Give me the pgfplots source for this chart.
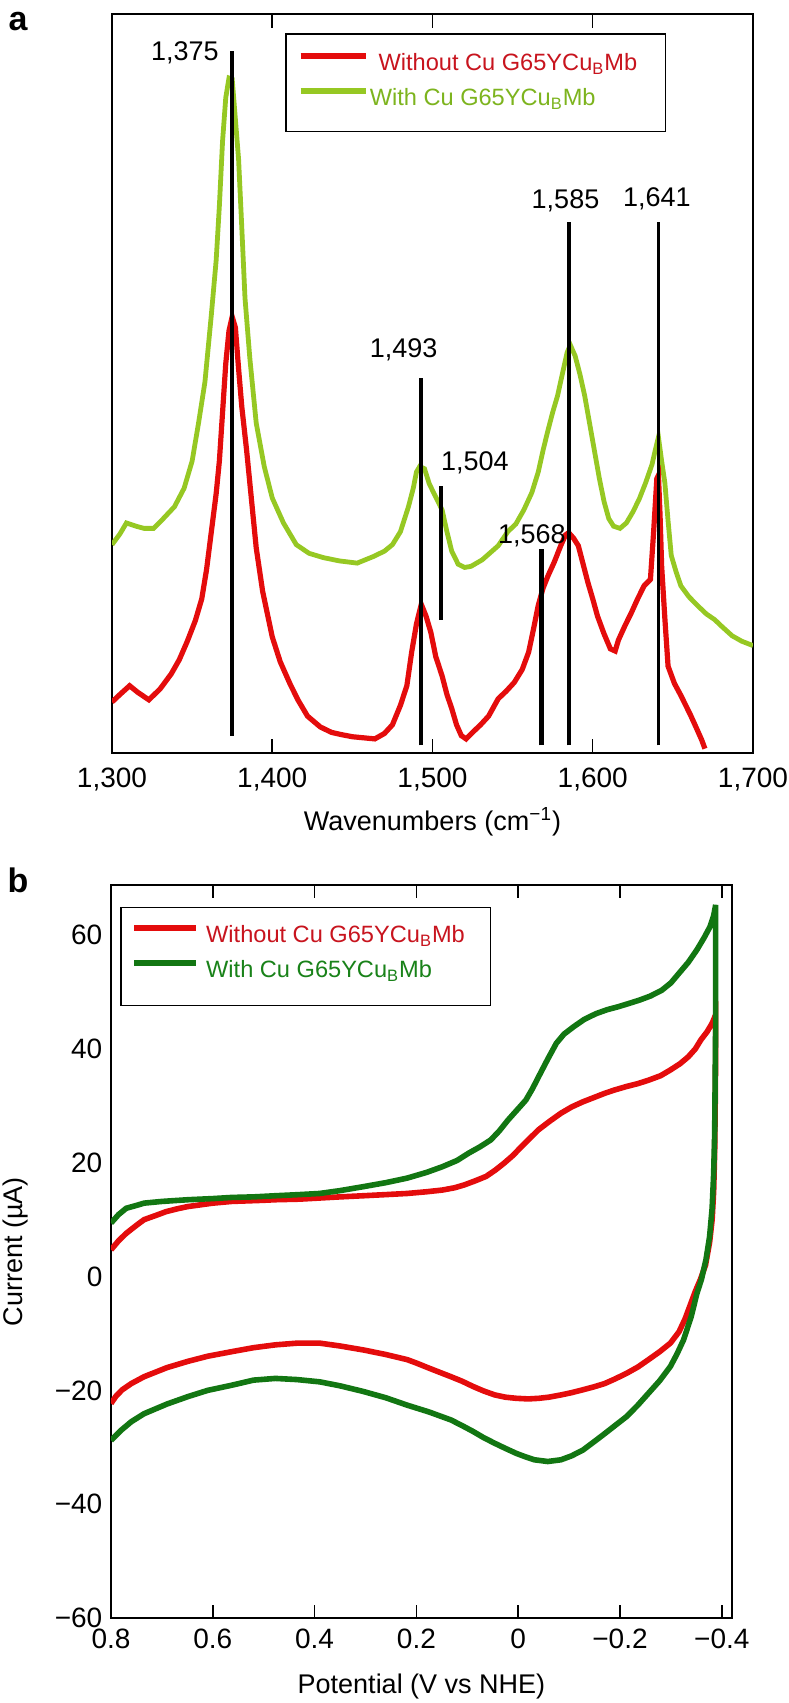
\documentclass[border=0pt]{standalone}
\usepackage{fontspec}
\setmainfont{Liberation Sans}
\usepackage{pgfplots}
\pgfplotsset{compat=1.18}
\definecolor{redline}{RGB}{228,12,12}
\definecolor{redtext}{RGB}{200,20,30}
\definecolor{ygreen}{RGB}{150,200,35}
\definecolor{ygtext}{RGB}{125,180,30}
\definecolor{dgreen}{RGB}{18,118,18}
\definecolor{dgtext}{RGB}{25,130,25}
\newcommand{\annfont}{\fontsize{13.5}{13.5}\selectfont}
\newcommand{\legfont}{\fontsize{11.8}{11.8}\selectfont}
\newcommand{\strutA}{\rule[-6.5pt]{0pt}{22.5pt}}
\begin{document}
\begin{tikzpicture}
\useasboundingbox (0,0) rectangle (394pt,-851.5pt);
\node[font=\bfseries\fontsize{17}{17}\selectfont] at (9pt,-11pt) {a};
\node[font=\bfseries\fontsize{17}{17}\selectfont] at (9pt,-440pt) {b};

\begin{axis}[at={(56pt,-7pt)}, anchor=north west, scale only axis,
  width=320.5pt, height=369.5pt,
  xmin=1300, xmax=1700, ymin=-4, ymax=677,
  xtick={1300,1400,1500,1600,1700},
  xticklabels={{1,300},{1,400},{1,500},{1,600},{1,700}},
  ytick=\empty,
  axis line style={line width=0.75pt},
  major tick style={line width=0.75pt, black}, major tick length=7pt,
  tick label style={font=\fontsize{14}{14}\selectfont},
  xticklabel style={yshift=-3.7pt},
  xlabel={Wavenumbers (cm\textsuperscript{−1})},
  xlabel style={font=\fontsize{13.5}{13.5}\selectfont, at={(axis description cs:0.5,-0.0928)}, anchor=center},
  legend style={at={(0.2699,0.9743)}, anchor=north west, draw=black, line width=0.8pt,
    inner xsep=5.9pt, inner ysep=2.6pt, row sep=0pt, font=\legfont,
    nodes={inner sep=0pt},
    /tikz/every odd column/.style={column sep=0pt},
    /tikz/every even column/.style={column sep=0pt}},
  legend cell align=left,
  legend image code/.code={\draw[#1] (0pt,0pt) -- (32.5pt,0pt);},
]
\addlegendimage{redline, line width=3pt}
\addlegendentry{\hspace{5pt}\textcolor{redtext}{Without Cu G65YCu\textsubscript{B}Mb}\hspace{8.2pt}\strutA}
\addlegendimage{ygreen, line width=3pt}
\addlegendentry{\hspace{0.6pt}\textcolor{ygtext}{With Cu G65YCu\textsubscript{B}Mb}\strutA}
\addlegendimage{empty legend}
\addlegendentry{\rule{0pt}{7.2pt}}

\addplot[ygreen, line width=2.4pt, forget plot] coordinates {
(1300,188) (1305,198) (1309,208) (1315,205) (1320,203) (1326,203) (1332,212) (1339,223)
(1345,240) (1350,265) (1354,300) (1358,338) (1362,400) (1365,450) (1367,500) (1369,560)
(1371,600) (1373,618) (1375,617) (1377,580) (1379,543) (1381,480) (1383,415) (1386,360)
(1390,300) (1395,260) (1400,231) (1407,208) (1415,188) (1423,180) (1432,176) (1442,173)
(1453,171) (1463,177) (1470,182) (1475,188) (1480,200) (1485,223) (1488,240) (1490,255)
(1492,260) (1495,258) (1498,244) (1502,232) (1506,220) (1509,200) (1512,182) (1516,170)
(1520,167) (1524,168) (1531,174) (1541,187) (1547,200) (1552,207) (1557,220) (1562,236)
(1566,255) (1569,275) (1572,293) (1575,310) (1578,325) (1581,345) (1584,365) (1586,372)
(1589,362) (1592,345) (1595,325) (1598,300) (1601,275) (1604,250) (1607,228) (1610,212)
(1613,205) (1617,203) (1621,208) (1625,218) (1629,230) (1633,245) (1637,262) (1639,275)
(1641,287) (1643,265) (1645,245) (1647,210) (1649,178) (1652,163) (1655,150) (1660,140)
(1666,131) (1671,124) (1676,119) (1681,112) (1687,104) (1693,99) (1700,95)};

\addplot[redline, line width=2.6pt, forget plot] coordinates {
(1300,43) (1305,50) (1311,58) (1316,52) (1323,45) (1330,55) (1337,69) (1342,82)
(1347,99) (1352,118) (1356,138) (1359,165) (1362,200) (1365,235) (1367,265) (1369,310)
(1371,355) (1373,385) (1375,398) (1377,388) (1379,350) (1381,315) (1384,275) (1387,230)
(1390,185) (1394,145) (1400,103) (1405,80) (1411,60) (1416,45) (1422,30) (1430,20)
(1437,15) (1443,13) (1450,11) (1457,10) (1464,9) (1470,14) (1475,22) (1480,40)
(1484,58) (1487,89) (1490,115) (1493,133) (1496,122) (1499,107) (1502,85) (1506,67)
(1509,50) (1512,37) (1515,22) (1518,12) (1521,9) (1525,15) (1530,22) (1535,30)
(1541,46) (1546,53) (1551,61) (1556,73) (1560,89) (1563,110) (1566,132) (1569,148)
(1572,159) (1576,172) (1580,187) (1583,197) (1585,199) (1588,194) (1591,187) (1594,170)
(1597,153) (1600,138) (1603,122) (1607,106) (1611,92) (1614,90) (1616,100) (1620,113)
(1624,125) (1628,138) (1632,150) (1636,156) (1638,200) (1640,249) (1641,252) (1642,215)
(1643,168) (1645,120) (1647,76) (1651,60) (1655,49) (1658,40) (1661,31) (1665,18)
(1668,8) (1670,0)};

\addplot[black, line width=1.8pt, forget plot] coordinates {(1375,12) (1375,643)};
\addplot[black, line width=2.2pt, forget plot] coordinates {(1493,3) (1493,342)};
\addplot[black, line width=2pt, forget plot] coordinates {(1505,119) (1505,242)};
\addplot[black, line width=2.3pt, forget plot] coordinates {(1568,3) (1568,184)};
\addplot[black, line width=1.8pt, forget plot] coordinates {(1585,3) (1585,485)};
\addplot[black, line width=1.5pt, forget plot] coordinates {(1641,3) (1641,485)};

\node[font=\annfont, anchor=east] at (axis cs:1371,641) {1,375};
\node[font=\annfont] at (axis cs:1482,368) {1,493};
\node[font=\annfont, anchor=west] at (axis cs:1501,263) {1,504};
\node[font=\annfont] at (axis cs:1562,196) {1,568};
\node[font=\annfont] at (axis cs:1583,505) {1,585};
\node[font=\annfont] at (axis cs:1640,507) {1,641};
\end{axis}

\begin{axis}[at={(55.5pt,-442.5pt)}, anchor=north west, scale only axis,
  width=310.5pt, height=366.5pt,
  x dir=reverse, xmin=-0.42, xmax=0.8, ymin=-60, ymax=68.8,
  xtick={-0.4,-0.2,0,0.2,0.4,0.6,0.8},
  xticklabels={−0.4,−0.2,0,0.2,0.4,0.6,0.8},
  ytick={-60,-40,-20,0,20,40,60},
  yticklabels={−60,−40,−20,0,20,40,60},
  ytick style={draw=none},
  axis line style={line width=0.75pt},
  major tick style={line width=0.75pt, black}, major tick length=6.7pt,
  tick label style={font=\fontsize{14}{14}\selectfont},
  xticklabel style={yshift=-2pt},
  yticklabel style={xshift=-0.8pt},
  xlabel={Potential (V vs NHE)},
  xlabel style={font=\fontsize{13.5}{13.5}\selectfont, at={(axis description cs:0.5,-0.0936)}, anchor=center},
  ylabel={Current (µA)},
  ylabel style={font=\fontsize{13.5}{13.5}\selectfont, at={(axis description cs:-0.153,0.5)}, anchor=center},
  legend style={at={(0.0145,0.9705)}, anchor=north west, draw=black, line width=0.8pt,
    inner xsep=5.3pt, inner ysep=1.6pt, row sep=0pt, font=\legfont,
    nodes={inner sep=0pt},
    /tikz/every odd column/.style={column sep=0pt},
    /tikz/every even column/.style={column sep=0pt}},
  legend cell align=left,
  legend image code/.code={\draw[#1] (0pt,0pt) -- (31pt,0pt);},
]
\addlegendimage{redline, line width=3pt}
\addlegendentry{\hspace{3.4pt}\textcolor{redtext}{Without Cu G65YCu\textsubscript{B}Mb}\hspace{7.6pt}\strutA}
\addlegendimage{dgreen, line width=3pt}
\addlegendentry{\hspace{3.4pt}\textcolor{dgtext}{With Cu G65YCu\textsubscript{B}Mb}\strutA}
\addlegendimage{empty legend}
\addlegendentry{\rule{0pt}{9.3pt}}

\addplot[redline, line width=2.8pt, forget plot] coordinates {
(0.8,4.7) (0.785,6.3) (0.77,7.6) (0.75,9.0) (0.735,10) (0.71,10.8) (0.692,11.4) (0.67,11.9)
(0.649,12.3) (0.6,12.9) (0.563,13.2) (0.5,13.4) (0.477,13.5) (0.43,13.6) (0.39,13.8) (0.35,14.0)
(0.304,14.2) (0.26,14.4) (0.218,14.6) (0.18,14.9) (0.149,15.2) (0.125,15.6) (0.106,16.1) (0.085,16.8)
(0.063,17.6) (0.045,18.7) (0.028,19.9) (0.01,21.3) (-0.006,22.8) (-0.023,24.3) (-0.04,25.8) (-0.062,27.3)
(-0.084,28.7) (-0.105,29.8) (-0.127,30.7) (-0.15,31.5) (-0.17,32.2) (-0.19,32.8) (-0.213,33.4) (-0.235,33.9)
(-0.256,34.5) (-0.28,35.3) (-0.299,36.3) (-0.318,37.4) (-0.334,38.6) (-0.348,40.0) (-0.359,41.6) (-0.371,43.0)
(-0.381,44.5) (-0.388,46)
(-0.388,40) (-0.387,30) (-0.386,22) (-0.384,15) (-0.381,10) (-0.376,6) (-0.368,2) (-0.358,-0.5)
(-0.348,-2.6) (-0.338,-5) (-0.328,-7.4) (-0.316,-9.7) (-0.299,-11.7) (-0.278,-13.2) (-0.256,-14.6) (-0.235,-15.9)
(-0.213,-17) (-0.19,-18) (-0.17,-18.8) (-0.148,-19.4) (-0.127,-19.9) (-0.105,-20.4) (-0.084,-20.8) (-0.06,-21.2)
(-0.04,-21.4) (-0.02,-21.5) (0.003,-21.4) (0.025,-21.2) (0.046,-20.8) (0.068,-20.1) (0.089,-19.3) (0.11,-18.4)
(0.132,-17.6) (0.155,-16.8) (0.175,-16.1) (0.2,-15.2) (0.218,-14.6) (0.26,-13.7) (0.304,-12.9) (0.35,-12.2)
(0.39,-11.7) (0.434,-11.7) (0.477,-12.0) (0.52,-12.5) (0.563,-13.2) (0.61,-14.0) (0.649,-14.9) (0.69,-16.0)
(0.735,-17.6) (0.76,-18.8) (0.778,-19.9) (0.79,-21) (0.8,-22.3)};

\addplot[dgreen, line width=2.8pt, forget plot] coordinates {
(0.8,9.4) (0.785,10.9) (0.77,12.0) (0.75,12.5) (0.735,12.9) (0.7,13.2) (0.649,13.5) (0.6,13.7)
(0.563,13.9) (0.52,14.0) (0.477,14.2) (0.43,14.4) (0.39,14.6) (0.35,15.1) (0.304,15.8) (0.26,16.5)
(0.218,17.3) (0.18,18.3) (0.149,19.3) (0.12,20.4) (0.097,21.7) (0.075,22.8) (0.054,24) (0.037,25.6)
(0.02,27.5) (0.003,29.2) (-0.015,31) (-0.028,33) (-0.04,35.1) (-0.058,38.2) (-0.075,41) (-0.09,42.6)
(-0.109,43.9) (-0.13,45.2) (-0.153,46.2) (-0.175,46.9) (-0.196,47.4) (-0.218,48) (-0.239,48.6) (-0.26,49.3)
(-0.282,50.3) (-0.3,51.6) (-0.316,53.3) (-0.334,55.2) (-0.351,57.4) (-0.365,59.5) (-0.377,61.5) (-0.384,63.4)
(-0.388,65.3)
(-0.388,55) (-0.388,45) (-0.387,35) (-0.386,25) (-0.384,18) (-0.381,12) (-0.376,7) (-0.369,3)
(-0.36,-0.5) (-0.351,-3) (-0.34,-7) (-0.325,-11.1) (-0.312,-13.6) (-0.299,-15.8) (-0.278,-18.3) (-0.256,-20.5)
(-0.235,-22.6) (-0.213,-24.6) (-0.19,-26.2) (-0.17,-27.6) (-0.148,-29.1) (-0.127,-30.5) (-0.105,-31.5) (-0.084,-32.2)
(-0.058,-32.5) (-0.032,-32.2) (-0.015,-31.7) (0.003,-31.1) (0.025,-30.2) (0.046,-29.3) (0.068,-28.3) (0.089,-27.2)
(0.11,-26.2) (0.132,-25.2) (0.175,-23.8) (0.218,-22.6) (0.26,-21.3) (0.304,-20.2) (0.35,-19.2) (0.39,-18.5)
(0.435,-18.1) (0.477,-17.9) (0.52,-18.2) (0.563,-19.1) (0.61,-20.0) (0.649,-21.1) (0.69,-22.4) (0.735,-24.1)
(0.76,-25.5) (0.78,-27) (0.8,-28.8)};
\end{axis}
\end{tikzpicture}
\end{document}
